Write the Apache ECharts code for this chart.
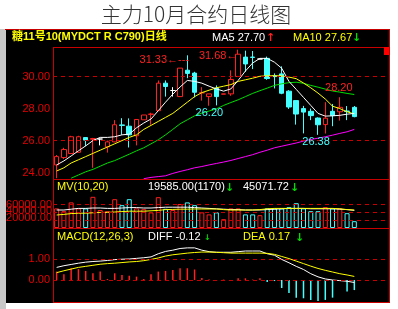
<!DOCTYPE html>
<html><head><meta charset="utf-8">
<script src="https://cdn.jsdelivr.net/npm/echarts@6/dist/echarts.min.js"></script>
<style>html,body{margin:0;padding:0;background:#fff}#c{width:398px;height:309px}</style>
</head><body><div id="c"></div>
<script>
const categories = ['D01','D02','D03','D04','D05','D06','D07','D08','D09','D10','D11','D12','D13','D14','D15','D16','D17','D18','D19','D20','D21','D22','D23','D24','D25','D26','D27','D28','D29','D30','D31','D32','D33','D34','D35','D36','D37','D38','D39','D40','D41','D42'];
const opens  = [24.48,24.94,25.19,25.27,26.19,26.08,26.10,25.61,25.92,26.98,26.90,26.30,27.30,27.64,27.87,29.59,29.13,28.75,30.40,30.22,28.98,28.75,29.28,28.90,28.92,30.01,31.22,31.22,31.10,31.14,30.05,30.17,29.09,28.50,28.00,27.83,27.41,27.00,27.83,27.80,27.85,28.08];
const closes = [25.00,25.44,26.24,26.24,26.03,26.13,26.10,25.92,26.99,26.95,26.36,27.32,27.60,27.66,29.59,29.38,29.13,30.53,30.20,29.02,29.00,28.92,28.75,28.92,29.82,31.40,30.79,31.20,31.10,29.88,30.00,28.96,28.10,27.66,27.78,27.56,26.99,27.40,27.56,28.08,27.82,27.50];
const lows   = [23.65,24.85,25.19,25.27,25.65,24.30,25.70,25.25,25.90,26.36,25.57,25.70,27.30,26.99,27.87,28.75,28.75,28.75,29.90,28.70,28.50,28.18,28.20,28.90,28.80,30.00,30.30,30.47,31.10,29.80,29.26,28.90,27.98,27.00,26.45,27.28,26.36,26.44,26.90,27.25,27.28,27.46];
const highs  = [25.10,25.55,26.30,26.30,26.19,26.17,26.12,26.00,27.28,27.40,27.39,27.35,27.60,27.74,29.76,29.76,29.34,30.53,31.33,30.30,29.34,28.92,29.45,28.92,30.39,31.68,31.62,31.60,31.10,31.25,30.20,30.64,29.15,28.50,28.17,28.00,27.45,28.40,28.29,28.71,28.16,28.16];
const ma5  = [24.48,24.73,25.04,25.36,25.67,26.00,26.20,26.20,26.24,26.36,26.40,26.80,27.10,27.35,27.87,28.40,28.90,29.35,29.76,29.70,29.59,29.40,29.23,29.09,29.23,29.76,30.35,30.85,31.14,31.14,30.90,30.52,29.70,29.20,28.70,28.20,27.70,27.53,27.55,27.58,27.65,27.70];
const ma10 = [24.10,24.30,24.60,24.80,25.00,25.20,25.40,25.60,25.80,26.00,26.20,26.36,26.70,26.95,27.20,27.45,27.70,28.05,28.40,28.75,29.00,29.15,29.30,29.40,29.50,29.70,29.80,29.90,30.02,30.05,30.05,30.05,29.97,29.87,29.60,29.30,28.97,28.60,28.15,28.00,27.80,27.67];
const ma20 = [null,null,23.65,23.85,24.05,24.20,24.40,24.60,24.75,24.95,25.15,25.36,25.55,25.80,26.05,26.36,26.70,27.05,27.30,27.55,27.72,27.85,27.98,28.20,28.38,28.55,28.75,28.95,29.12,29.28,29.45,29.55,29.62,29.65,29.58,29.45,29.34,29.22,29.10,29.03,28.95,28.88];
const ma60 = [null,null,null,null,null,null,null,null,null,null,null,null,23.62,23.70,23.75,23.80,23.95,24.07,24.18,24.30,24.38,24.48,24.57,24.66,24.76,24.88,25.00,25.12,25.27,25.40,25.55,25.65,25.75,25.85,25.97,26.07,26.15,26.24,26.34,26.45,26.55,26.70];
const volumes = [49000,42000,64000,49000,49000,78000,45000,42000,72000,57000,72000,49000,47000,39000,77000,48000,45000,60000,64000,57000,39000,34000,39000,22000,49000,49000,34000,34000,32000,49000,49000,49000,52000,62000,49000,42000,42000,52000,49000,49000,37000,17000];
const volMa1 = [45000,45000,47000,49000,49000,50000,50000,49000,49000,50000,51000,51000,50000,50000,51000,52000,52000,52000,52000,51000,50000,49000,48000,47000,46000,46000,45000,45000,45000,46000,47000,48000,49000,49000,49000,48000,48000,48000,48000,47000,46000,44000];
const volMa2 = [32500,34000,36000,37000,37000,38000,39000,39000,40000,41000,42000,42000,42000,43000,44000,46000,46500,47000,47000,47500,47500,47500,47500,46000,45000,45000,45000,45000,46000,48000,49000,49000,49000,49000,49000,49000,49000,49000,49000,48000,46000,45000];
const diff = [0.60,0.68,0.74,0.80,0.85,0.88,0.90,0.93,0.97,0.99,1.00,1.03,1.06,1.10,1.25,1.36,1.42,1.50,1.53,1.53,1.42,1.35,1.32,1.32,1.32,1.35,1.38,1.38,1.38,1.25,1.18,0.98,0.82,0.65,0.50,0.30,0.15,0.05,0.00,-0.03,-0.06,-0.12];
const dea  = [0.35,0.44,0.52,0.60,0.65,0.70,0.75,0.78,0.80,0.83,0.86,0.88,0.92,0.98,1.05,1.14,1.20,1.24,1.28,1.31,1.33,1.33,1.32,1.30,1.28,1.28,1.28,1.28,1.28,1.27,1.22,1.12,1.02,0.90,0.78,0.66,0.55,0.46,0.38,0.30,0.24,0.17];
const macd = [0.40,0.27,0.56,0.52,0.43,0.32,0.40,0.05,0.32,0.24,0.20,0.16,0.05,0.27,0.40,0.43,0.48,0.56,0.56,0.50,0.10,0.02,-0.03,0.02,-0.03,0.08,0.08,0.02,0.08,-0.10,-0.05,-0.38,-0.62,-0.84,-0.87,-0.95,-1.00,-0.95,-0.84,0.00,-0.55,-0.48];
const priceTicks = [24, 26, 28, 30];
const volTicks = [20000, 40000, 60000];
const macdTicks = [0, 1];

const RED = '#ff2020', CYAN = '#44ffff', YEL = '#ffff00', GRN = '#00dd00', MAG = '#ff00ff', WHT = '#ffffff', LINE = '#c80000', LBL = '#e80000';
const FONT = "'Liberation Sans','Noto Sans CJK SC'";
const ARROWFONT = "'DejaVu Sans'";

const chart = echarts.init(document.getElementById('c'), null, {renderer: 'canvas'});

function xAx(g) {
  return {type: 'category', gridIndex: g, data: categories, max: 45, boundaryGap: true,
    axisLine: {show: false}, axisTick: {show: false}, axisLabel: {show: false}, splitLine: {show: false}};
}
function yAx(g, min, max, ticks, fmt, showLabel) {
  return {type: 'value', gridIndex: g, min: min, max: max, scale: true,
    axisLine: {show: false}, axisTick: {show: false}, splitLine: {show: false},
    axisLabel: {show: showLabel, customValues: ticks, formatter: fmt, color: LBL, fontSize: 11, fontFamily: FONT, margin: 3, hideOverlap: false}};
}
function dashed(vals, color) {
  return {silent: true, symbol: 'none', label: {show: false},
    lineStyle: {color: color || LINE, type: [4, 4], width: 1},
    data: vals.map(v => ({yAxis: v}))};
}
function lineS(data, color, xi, yi, z) {
  return {type: 'line', data: data, xAxisIndex: xi, yAxisIndex: yi, symbol: 'none', silent: true,
    lineStyle: {color: color, width: 1}, z: z || 3, animation: false};
}
function txt(x, y, text, color, size, align, weight, family) {
  return {type: 'text', x: x, y: y, silent: true, z: 10,
    style: {text: text, fill: color, fontSize: size || 11, fontFamily: family || FONT, fontWeight: weight || 'normal',
      align: align || 'left', verticalAlign: 'middle'}};
}
function arrow(x, y, text, color, size) { return txt(x, y, text, color, size || 11, 'left', 'bold', ARROWFONT); }
function hline(x1, x2, y) { return {type: 'line', silent: true, z: 5, shape: {x1: x1, y1: y, x2: x2, y2: y}, style: {stroke: LINE, lineWidth: 1}}; }
function vline(x, y1, y2) { return {type: 'line', silent: true, z: 5, shape: {x1: x, y1: y1, x2: x, y2: y2}, style: {stroke: LINE, lineWidth: 1}}; }

const candleData = opens.map((o, i) => [o, closes[i], lows[i], highs[i]]);
const volData = volumes.map((v, i) => ({value: v, itemStyle: {borderColor: closes[i] >= opens[i] ? RED : CYAN}}));

function mp(idx, val, text, color, offset) {
  return {coord: [idx, val], symbol: 'circle', symbolSize: 0,
    label: {show: true, formatter: text, color: color, fontSize: 11, fontFamily: FONT, position: 'inside', offset: offset}};
}

const option = {
  backgroundColor: '#ffffff',
  animation: false,
  grid: [
    {left: 53, width: 334, top: 47, height: 132, show: false},
    {left: 53, width: 334, top: 179, height: 49, show: false},
    {left: 53, width: 334, top: 228, height: 74, show: false}
  ],
  xAxis: [xAx(0), xAx(1), xAx(2)],
  yAxis: [
    yAx(0, 23.6, 31.85, priceTicks, v => v.toFixed(2), true),
    yAx(1, 0, 122500, volTicks, v => v.toFixed(2), false),
    yAx(2, -1.048, 2.476, macdTicks, v => v.toFixed(2), true)
  ],
  graphic: [
    {type: 'rect', silent: true, z: -20, shape: {x: 0, y: 29, width: 6, height: 280}, style: {fill: '#c8c8c8'}},
    {type: 'rect', silent: true, z: -10, shape: {x: 6, y: 29, width: 384, height: 274}, style: {fill: '#000000'}},
    hline(5, 390, 29.5), vline(389.5, 29, 303), hline(53, 390, 302.5), vline(53.5, 47, 303),
    hline(53, 390, 47.5), hline(53, 390, 179.5), hline(53, 390, 228.5),
    {type: 'rect', silent: true, z: 6, shape: {x: 384, y: 47, width: 5, height: 8}, style: {fill: '#ff0000'}},
    {type: 'text', x: 196, y: 14, silent: true, style: {text: '主力10月合约日线图', fill: '#333333', fontSize: 21,
      fontFamily: "'Noto Sans CJK SC'", fontWeight: 300, align: 'center', verticalAlign: 'middle'}},
    txt(12, 37, '糖11号10(MYDCT R C790)日线', YEL, 11, 'left', 'bold'),
    txt(212, 38, 'MA5 27.70', WHT, 11),
    arrow(266, 38, '↑', RED),
    txt(293, 38, 'MA10 27.67', YEL, 11),
    arrow(352, 38, '↓', GRN),
    txt(52, 205, '60000.00', LBL, 11, 'right'),
    txt(52, 211, '40000.00', LBL, 11, 'right'),
    txt(52, 218, '20000.00', LBL, 11, 'right'),
    txt(57, 187, 'MV(10,20)', YEL, 11),
    txt(148, 187, '19585.00(1170)', WHT, 11),
    arrow(225, 188, '↓', GRN),
    txt(243, 187, '45071.72', WHT, 11),
    arrow(290, 188, '↓', GRN),
    txt(57, 237, 'MACD(12,26,3)', YEL, 11),
    txt(148, 237, 'DIFF -0.12', WHT, 11),
    arrow(204, 238, '↓', GRN, 8),
    txt(243, 237, 'DEA 0.17', YEL, 11),
    arrow(295, 238, '↓', GRN)
  ],
  series: [
    {type: 'candlestick', xAxisIndex: 0, yAxisIndex: 0, data: candleData, barWidth: 5, z: 2,
      itemStyle: {color: '#000000', color0: CYAN, borderColor: RED, borderColor0: CYAN, borderColorDoji: WHT, borderWidth: 1},
      markLine: dashed([30, 26]),
      markPoint: {silent: true, data: [
        mp(18, highs[18], '31.33←---', RED, [-23, 5]),
        mp(25, highs[25], '31.68←', RED, [-20, 6]),
        mp(22, lows[22], '26.20', CYAN, [-7, 8]),
        mp(36, lows[36], '26.38', CYAN, [-2, 7]),
        mp(39, highs[39], '28.20', RED, [-1, -9])
      ]}
    },
    lineS(ma60, MAG, 0, 0),
    lineS(ma20, GRN, 0, 0),
    lineS(ma10, YEL, 0, 0),
    lineS(ma5, WHT, 0, 0, 4),
    {type: 'bar', xAxisIndex: 1, yAxisIndex: 1, data: volData, barWidth: 5, silent: true,
      itemStyle: {color: 'rgba(0,0,0,0)', borderWidth: 1},
      markLine: dashed(volTicks)},
    lineS(volMa1, WHT, 1, 1),
    lineS(volMa2, YEL, 1, 1, 4),
    {type: 'bar', xAxisIndex: 2, yAxisIndex: 2, data: macd, barWidth: 1.5, silent: true,
      itemStyle: {color: p => p.value >= 0 ? RED : CYAN},
      markLine: dashed(macdTicks)},
    lineS(diff, WHT, 2, 2),
    lineS(dea, YEL, 2, 2)
  ]
};
chart.setOption(option);
</script></body></html>
